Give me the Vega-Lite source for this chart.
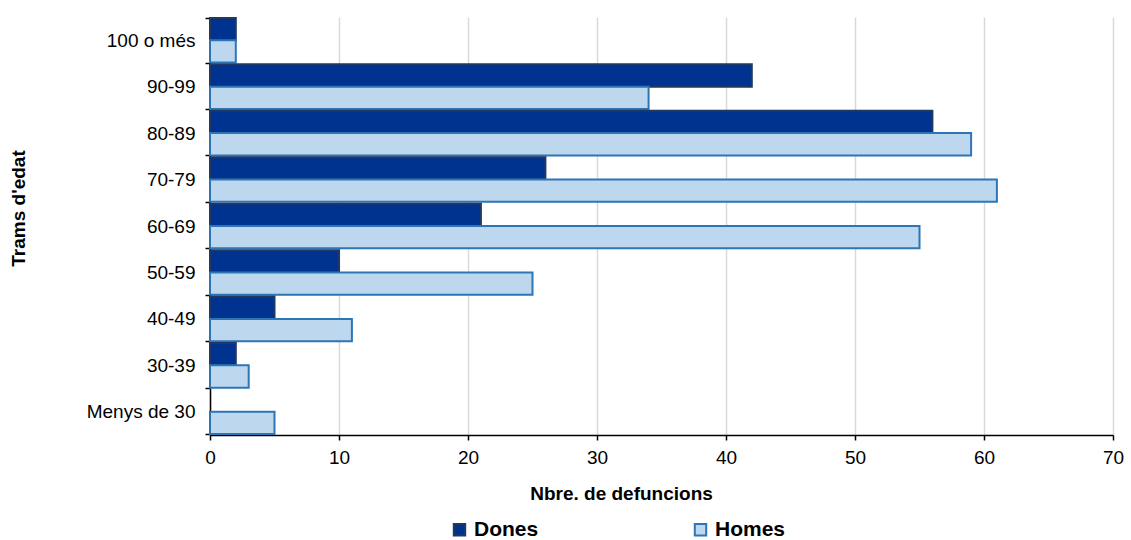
{
  "$schema": "https://vega.github.io/schema/vega-lite/v6.json",
  "autosize": "none",
  "width": 903,
  "height": 418,
  "padding": {"left": 210, "top": 17, "right": 18, "bottom": 105},
  "background": "white",
  "data": {
    "values": [
      {"tram": "100 o més", "sexe": "Dones", "n": 2},
      {"tram": "100 o més", "sexe": "Homes", "n": 2},
      {"tram": "90-99", "sexe": "Dones", "n": 42},
      {"tram": "90-99", "sexe": "Homes", "n": 34},
      {"tram": "80-89", "sexe": "Dones", "n": 56},
      {"tram": "80-89", "sexe": "Homes", "n": 59},
      {"tram": "70-79", "sexe": "Dones", "n": 26},
      {"tram": "70-79", "sexe": "Homes", "n": 61},
      {"tram": "60-69", "sexe": "Dones", "n": 21},
      {"tram": "60-69", "sexe": "Homes", "n": 55},
      {"tram": "50-59", "sexe": "Dones", "n": 10},
      {"tram": "50-59", "sexe": "Homes", "n": 25},
      {"tram": "40-49", "sexe": "Dones", "n": 5},
      {"tram": "40-49", "sexe": "Homes", "n": 11},
      {"tram": "30-39", "sexe": "Dones", "n": 2},
      {"tram": "30-39", "sexe": "Homes", "n": 3},
      {"tram": "Menys de 30", "sexe": "Dones", "n": 0},
      {"tram": "Menys de 30", "sexe": "Homes", "n": 5}
    ]
  },
  "mark": {"type": "bar", "strokeWidth": 2, "cornerRadius": 0},
  "encoding": {
    "y": {
      "field": "tram",
      "type": "nominal",
      "sort": ["100 o més", "90-99", "80-89", "70-79", "60-69", "50-59", "40-49", "30-39", "Menys de 30"],
      "scale": {"paddingInner": 0.04, "paddingOuter": 0.02},
      "axis": {
        "title": "Trams d'edat",
        "titleFont": "Liberation Sans",
        "titleFontSize": 19,
        "titleFontWeight": "bold",
        "titleColor": "#000000",
        "titleX": -192,
        "titleY": 191,
        "titleAngle": -90,
        "titleAlign": "center",
        "titleBaseline": "middle",
        "labelFont": "Liberation Sans",
        "labelFontSize": 19,
        "labelColor": "#000000",
        "labelPadding": 10,
        "tickBand": "extent",
        "tickSize": 5,
        "tickColor": "#000000",
        "tickWidth": 1.5,
        "domainColor": "#000000",
        "domainWidth": 1.5,
        "grid": false
      }
    },
    "yOffset": {"field": "sexe", "type": "nominal", "sort": ["Dones", "Homes"]},
    "x": {
      "field": "n",
      "type": "quantitative",
      "scale": {"domain": [0, 70], "nice": false},
      "axis": {
        "title": "Nbre. de defuncions",
        "titleFont": "Liberation Sans",
        "titleFontSize": 19,
        "titleFontWeight": "bold",
        "titleColor": "#000000",
        "titleX": 411,
        "titleY": 58,
        "titleAlign": "center",
        "titleBaseline": "middle",
        "values": [0, 10, 20, 30, 40, 50, 60, 70],
        "labelFont": "Liberation Sans",
        "labelFontSize": 19,
        "labelColor": "#000000",
        "labelPadding": 8,
        "labelFlush": false,
        "labelOverlap": false,
        "tickSize": 5,
        "tickColor": "#000000",
        "tickWidth": 1.5,
        "domainColor": "#000000",
        "domainWidth": 1.5,
        "grid": true,
        "gridColor": "#d9d9d9",
        "gridWidth": 1.5
      }
    },
    "opacity": {
      "condition": {"test": "datum.n == 0", "value": 0},
      "value": 1
    },
    "color": {
      "field": "sexe",
      "type": "nominal",
      "scale": {"domain": ["Dones", "Homes"], "range": ["#003390", "#bdd7ee"]},
      "legend": {
        "title": null,
        "orient": "none",
        "legendX": 239,
        "legendY": 502,
        "direction": "horizontal",
        "columns": 2,
        "columnPadding": 151,
        "symbolType": "square",
        "symbolSize": 130,
        "symbolStrokeWidth": 2,
        "symbolOpacity": 1,
        "labelFont": "Liberation Sans",
        "labelFontSize": 21,
        "labelFontWeight": "bold",
        "labelColor": "#000000",
        "labelOffset": 4
      }
    },
    "stroke": {
      "field": "sexe",
      "type": "nominal",
      "scale": {"domain": ["Dones", "Homes"], "range": ["#1f3864", "#2e75b6"]},
      "legend": null
    }
  },
  "config": {"view": {"stroke": null}}
}
